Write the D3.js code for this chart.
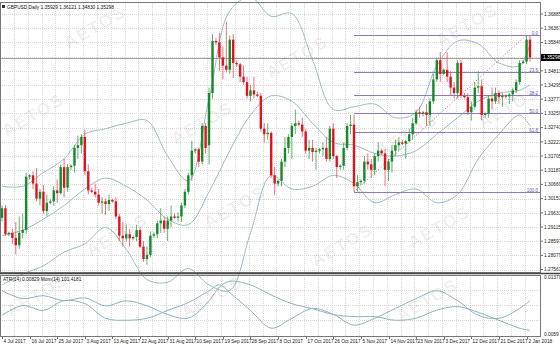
<!DOCTYPE html>
<html>
<head>
<meta charset="utf-8">
<script src="https://cdn.jsdelivr.net/npm/d3@7"></script>
<style>
  body { margin: 0; background: #fff; }
  svg { display: block; font-family: "Liberation Sans", Arial, sans-serif; }
</style>
</head>
<body>
<div id="chart"></div>
<script>
// ---- data (GBPUSD daily) ----
var open = [
  1.2945,1.2980,1.2885,1.2890,1.2872,1.2845,1.2890,1.2900,1.3095,1.3100,
  1.3070,1.3015,1.3040,1.2970,1.3000,1.3005,1.3045,1.3035,1.3130,1.3055,
  1.3130,1.3135,1.3200,1.3210,1.3240,1.3115,1.3045,1.3040,1.3030,1.3000,
  1.3005,1.2995,1.3010,1.3005,1.2950,1.2880,1.2870,1.2885,1.2870,1.2875,
  1.2900,1.2840,1.2795,1.2810,1.2880,1.2885,1.2925,1.2935,1.2905,1.2935,
  1.2950,1.2945,1.2950,1.2990,1.3040,1.3100,1.3190,1.3195,1.3150,1.3280,
  1.3210,1.3400,1.3590,1.3585,1.3530,1.3500,1.3485,1.3595,1.3510,1.3505,
  1.3460,1.3440,1.3390,1.3410,1.3395,1.3390,1.3270,1.3250,1.3255,1.3100,
  1.3070,1.3080,1.3150,1.3200,1.3240,1.3280,1.3290,1.3285,1.3260,1.3190,
  1.3200,1.3185,1.3190,1.3195,1.3200,1.3160,1.3270,1.3170,1.3130,1.3135,
  1.3200,1.3280,1.3285,1.3060,1.3075,1.3080,1.3150,1.3140,1.3120,1.3170,
  1.3190,1.3180,1.3120,1.3150,1.3190,1.3210,1.3220,1.3215,1.3225,1.3250,
  1.3290,1.3330,1.3325,1.3330,1.3320,1.3370,1.3450,1.3520,1.3470,1.3485,
  1.3460,1.3420,1.3400,1.3510,1.3390,1.3385,1.3330,1.3350,1.3420,1.3425,
  1.3320,1.3325,1.3380,1.3370,1.3400,1.3385,1.3390,1.3388,1.3395,1.3410,
  1.3440,1.3510,1.3515,1.3595];
var high = [
  1.2990,1.2992,1.2895,1.2905,1.2930,1.2950,1.2960,1.3110,1.3105,1.3115,
  1.3126,1.3050,1.3065,1.3030,1.3012,1.3060,1.3085,1.3140,1.3160,1.3140,
  1.3140,1.3210,1.3245,1.3250,1.3267,1.3140,1.3055,1.3070,1.3050,1.3020,
  1.3015,1.3030,1.3015,1.3020,1.2960,1.2930,1.2920,1.2905,1.2880,1.2920,
  1.2910,1.2860,1.2840,1.2895,1.2892,1.2935,1.2980,1.2950,1.2950,1.2990,
  1.2960,1.2965,1.3000,1.3050,1.3110,1.3225,1.3200,1.3200,1.3290,1.3290,
  1.3420,1.3615,1.3600,1.3620,1.3570,1.3660,1.3610,1.3615,1.3520,1.3510,
  1.3500,1.3460,1.3430,1.3460,1.3405,1.3400,1.3290,1.3290,1.3260,1.3130,
  1.3085,1.3160,1.3240,1.3250,1.3290,1.3340,1.3300,1.3310,1.3270,1.3230,
  1.3230,1.3200,1.3200,1.3220,1.3240,1.3280,1.3290,1.3175,1.3140,1.3220,
  1.3290,1.3320,1.3320,1.3100,1.3085,1.3170,1.3180,1.3160,1.3180,1.3220,
  1.3195,1.3195,1.3160,1.3210,1.3230,1.3240,1.3230,1.3230,1.3270,1.3310,
  1.3340,1.3350,1.3335,1.3360,1.3380,1.3470,1.3530,1.3550,1.3490,1.3550,
  1.3480,1.3440,1.3520,1.3520,1.3400,1.3400,1.3370,1.3440,1.3480,1.3450,
  1.3330,1.3390,1.3420,1.3420,1.3410,1.3400,1.3395,1.3400,1.3420,1.3450,
  1.3520,1.3520,1.3612,1.3612];
var low = [
  1.2932,1.2880,1.2878,1.2850,1.2812,1.2832,1.2870,1.2885,1.3085,1.3050,
  1.3005,1.2990,1.2960,1.2950,1.2995,1.2990,1.3000,1.3030,1.3020,1.3040,
  1.3120,1.3110,1.3160,1.3180,1.3100,1.3030,1.3035,1.3020,1.2990,1.2960,
  1.2955,1.2970,1.3000,1.2940,1.2860,1.2840,1.2860,1.2840,1.2862,1.2860,
  1.2835,1.2785,1.2774,1.2800,1.2872,1.2870,1.2890,1.2890,1.2860,1.2910,
  1.2940,1.2930,1.2930,1.2980,1.3030,1.3080,1.3180,1.3130,1.3140,1.3180,
  1.3140,1.3380,1.3575,1.3480,1.3450,1.3475,1.3470,1.3455,1.3495,1.3440,
  1.3430,1.3380,1.3370,1.3380,1.3385,1.3260,1.3220,1.3230,1.3090,1.3027,
  1.3060,1.3060,1.3130,1.3180,1.3160,1.3250,1.3280,1.3240,1.3180,1.3160,
  1.3150,1.3120,1.3180,1.3170,1.3150,1.3150,1.3160,1.3090,1.3120,1.3120,
  1.3190,1.3250,1.3040,1.3040,1.3065,1.3070,1.3120,1.3090,1.3100,1.3150,
  1.3175,1.3060,1.3080,1.3110,1.3170,1.3190,1.3210,1.3160,1.3220,1.3230,
  1.3285,1.3310,1.3315,1.3280,1.3280,1.3360,1.3440,1.3440,1.3465,1.3440,
  1.3390,1.3380,1.3380,1.3380,1.3380,1.3320,1.3300,1.3340,1.3400,1.3300,
  1.3310,1.3310,1.3340,1.3360,1.3360,1.3350,1.3380,1.3360,1.3370,1.3400,
  1.3430,1.3505,1.3505,1.3515];
var close = [
  1.2980,1.2885,1.2890,1.2872,1.2845,1.2890,1.2900,1.3095,1.3100,1.3070,
  1.3015,1.3040,1.2970,1.3000,1.3005,1.3045,1.3035,1.3130,1.3055,1.3130,
  1.3135,1.3200,1.3210,1.3240,1.3115,1.3045,1.3040,1.3030,1.3000,1.3005,
  1.2995,1.3010,1.3005,1.2950,1.2880,1.2870,1.2885,1.2870,1.2875,1.2900,
  1.2840,1.2795,1.2810,1.2880,1.2885,1.2925,1.2935,1.2905,1.2935,1.2950,
  1.2945,1.2950,1.2990,1.3040,1.3100,1.3190,1.3195,1.3150,1.3280,1.3200,
  1.3400,1.3590,1.3585,1.3530,1.3500,1.3485,1.3595,1.3510,1.3505,1.3460,
  1.3440,1.3390,1.3410,1.3395,1.3390,1.3270,1.3250,1.3255,1.3100,1.3070,
  1.3080,1.3150,1.3200,1.3240,1.3280,1.3290,1.3285,1.3260,1.3190,1.3200,
  1.3185,1.3190,1.3195,1.3200,1.3160,1.3270,1.3170,1.3130,1.3135,1.3200,
  1.3280,1.3285,1.3060,1.3075,1.3080,1.3150,1.3140,1.3120,1.3170,1.3190,
  1.3180,1.3120,1.3150,1.3190,1.3210,1.3220,1.3215,1.3225,1.3250,1.3290,
  1.3330,1.3325,1.3330,1.3320,1.3370,1.3450,1.3520,1.3470,1.3485,1.3460,
  1.3420,1.3400,1.3510,1.3390,1.3385,1.3330,1.3350,1.3420,1.3425,1.3320,
  1.3325,1.3380,1.3370,1.3400,1.3385,1.3390,1.3388,1.3395,1.3410,1.3440,
  1.3510,1.3515,1.3595,1.35298];

// date labels, every 8th bar
var dateLabels = ["4 Jul 2017","16 Jul 2017","25 Jul 2017","3 Aug 2017","13 Aug 2017",
  "22 Aug 2017","31 Aug 2017","10 Sep 2017","19 Sep 2017","28 Sep 2017","8 Oct 2017",
  "17 Oct 2017","26 Oct 2017","5 Nov 2017","14 Nov 2017","23 Nov 2017","3 Dec 2017",
  "12 Dec 2017","21 Dec 2017","2 Jan 2018"];
var dateIdx = [0,8,16,24,32,40,48,56,64,72,80,88,96,104,112,120,128,136,144,152];

// price axis labels
var priceLabels = ["1.36885","1.36367","1.35849","1.35331","1.34813","1.34295","1.33777",
  "1.33259","1.32741","1.32223","1.31705","1.31187","1.30669","1.30151","1.29633",
  "1.29115","1.28597","1.28079","1.27561"];

// bollinger bands
var bandIdx = [0,6,12,18,24,30,36,42,48,54,60,66,72,78,84,90,96,102,108,114,120,126,132,138,144,150,153];
var bandUp  = [1.3060,1.3060,1.3110,1.3160,1.3250,1.3270,1.3290,1.3300,1.3170,1.3080,1.3380,1.3700,1.3750,1.3680,
               1.3690,1.3520,1.3340,1.3350,1.3360,1.3310,1.3330,1.3500,1.3590,1.3580,1.3510,1.3500,1.3580];
var bandMid = [1.2880,1.2900,1.2940,1.2990,1.3050,1.3090,1.3060,1.3010,1.2940,1.2920,1.3040,1.3190,1.3320,1.3390,
               1.3370,1.3290,1.3220,1.3210,1.3180,1.3170,1.3190,1.3250,1.3310,1.3370,1.3400,1.3410,1.3430];
var bandLow = [1.2700,1.2740,1.2770,1.2820,1.2850,1.2910,1.2830,1.2720,1.2710,1.2760,1.2700,1.2680,1.2890,1.3100,
               1.3050,1.3060,1.3100,1.3070,1.3000,1.3030,1.3050,1.3000,1.3030,1.3160,1.3250,1.3320,1.3280];

// fibonacci retracement
var fibLevels = [0, 23.6, 38.2, 50, 61.8, 100];
var fibLowIdx = 102, fibHighIdx = 152, fibLow = 1.3040, fibHigh = 1.3612;

// lower window: ATR(14) and Momentum(14), sampled
var subIdx = [0,6,12,18,24,30,36,42,48,54,60,63,66,72,78,84,90,96,102,108,114,120,126,132,138,144,150,153];
var atr = [0.0119,0.0108,0.0112,0.0105,0.0109,0.0098,0.0105,0.0098,0.0086,0.0081,0.0105,0.0124,0.0132,0.0127,
           0.0113,0.0101,0.0094,0.0086,0.0083,0.0083,0.0078,0.0081,0.0092,0.0097,0.0089,0.0078,0.0067,0.0064];
var mom = [99.29,100.50,99.90,101.10,100.74,98.93,98.69,98.93,99.90,100.86,102.31,103.04,102.07,99.90,
           97.72,98.93,100.14,99.41,98.09,98.93,100.14,101.35,102.31,101.10,99.29,98.93,100.14,101.10];

var watermarks = [[98,32],[300,62],[470,30],[36,120],[205,128],[410,140],[120,240],[238,212],
                  [345,250],[442,232],[512,112],[40,300],[215,302],[430,305]];

// ---- layout ----
var width = 560, height = 345;
var plotR = 540, mainTop = 3, mainBot = 272, subTop = 275, subBot = 336;

var svg = d3.select("#chart").append("svg")
  .attr("width", width).attr("height", height);

var x = d3.scaleLinear().domain([0, 153]).range([2, 530]);
var y = d3.scaleLinear().domain([1.27561, 1.36885]).range([269.6, 14]);
var yAtr = d3.scaleLinear().domain([0.0059, 0.01379]).range([334, 277]);
var yMom = d3.scaleLinear().domain([97, 104]).range([334, 277]);

// grid
var grid = svg.append("g").attr("stroke", "#d9d9d9").attr("stroke-dasharray", "1,1");
d3.range(1, 39).forEach(function(k) {
  var gx = Math.round(x(k * 4 - 0.5)) + 0.5;
  if (gx < plotR) grid.append("line").attr("x1", gx).attr("x2", gx).attr("y1", mainTop).attr("y2", subBot);
});
priceLabels.forEach(function(p) {
  var gy = Math.round(y(+p)) + 0.5;
  grid.append("line").attr("x1", 0).attr("x2", plotR).attr("y1", gy).attr("y2", gy);
});
[290, 305, 320].forEach(function(gy) {
  grid.append("line").attr("x1", 0).attr("x2", plotR).attr("y1", gy + 0.5).attr("y2", gy + 0.5);
});

// watermark
svg.append("g").selectAll("text").data(watermarks).enter().append("text")
  .attr("transform", function(d) { return "translate(" + d[0] + "," + d[1] + ")rotate(-30)"; })
  .attr("text-anchor", "middle")
  .style("font-size", "17px").style("font-weight", "bold").style("letter-spacing", "2px")
  .attr("fill", "#000").attr("fill-opacity", 0.07)
  .text("AETOS");

// bands
var bandLine = function(vals) {
  return d3.line()
    .x(function(d, i) { return x(bandIdx[i]); })
    .y(function(d) { return y(d); })
    .curve(d3.curveCatmullRom)(vals);
};
var main = svg.append("g");
[bandUp, bandMid, bandLow].forEach(function(b) {
  main.append("path").attr("d", bandLine(b))
    .attr("fill", "none").attr("stroke", "#9dbcc2").attr("stroke-width", 1);
});

// current price line
var last = close[close.length - 1];
main.append("line").attr("x1", 0).attr("x2", plotR)
  .attr("y1", Math.round(y(last)) + 0.5).attr("y2", Math.round(y(last)) + 0.5)
  .attr("stroke", "#a0a0a0");

// fibonacci
var fibY = function(lv) { return fibHigh - (fibHigh - fibLow) * lv / 100; };
main.append("line")
  .attr("x1", x(fibLowIdx)).attr("y1", y(fibLow))
  .attr("x2", x(fibHighIdx)).attr("y2", y(fibHigh))
  .attr("stroke", "#c07070").attr("stroke-dasharray", "1,2");
fibLevels.forEach(function(lv) {
  var fy = Math.round(y(fibY(lv))) + 0.5;
  main.append("line").attr("x1", x(fibLowIdx)).attr("x2", plotR).attr("y1", fy).attr("y2", fy)
    .attr("stroke", "#8a7cb5").attr("stroke-width", 1);
  main.append("text").attr("x", 538).attr("y", fy - 1).attr("text-anchor", "end")
    .style("font-size", "4.5px").attr("fill", "#6a5ca5")
    .text(lv === 100 ? "100.0" : d3.format(".1f")(lv));
});

// candles
var bars = main.selectAll("g.bar").data(close).enter().append("g");
bars.append("line")
  .attr("x1", function(d, i) { return x(i); }).attr("x2", function(d, i) { return x(i); })
  .attr("y1", function(d, i) { return y(high[i]); }).attr("y2", function(d, i) { return y(low[i]); })
  .attr("stroke", function(d, i) { return close[i] >= open[i] ? "#3c9c4a" : "#e44c58"; })
  .attr("stroke-width", 0.8);
bars.append("rect")
  .attr("x", function(d, i) { return x(i) - 1.2; })
  .attr("width", 2.4)
  .attr("y", function(d, i) { return y(Math.max(open[i], close[i])); })
  .attr("height", function(d, i) { return Math.max(0.8, Math.abs(y(open[i]) - y(close[i]))); })
  .attr("fill", function(d, i) { return close[i] >= open[i] ? "#168a2a" : "#e0141e"; });

// lower window lines
var subLine = function(vals, sc) {
  return d3.line()
    .x(function(d, i) { return x(subIdx[i]); })
    .y(function(d) { return sc(d); })
    .curve(d3.curveCatmullRom)(vals);
};
svg.append("path").attr("d", subLine(atr, yAtr)).attr("fill", "none").attr("stroke", "#8fb2c0");
svg.append("path").attr("d", subLine(mom, yMom)).attr("fill", "none").attr("stroke", "#8fb2c0");

// frames
var frame = svg.append("g").attr("fill", "none").attr("stroke", "#777");
frame.append("rect").attr("x", 0.5).attr("y", 2.5).attr("width", plotR).attr("height", mainBot - 2);
frame.append("rect").attr("x", 0.5).attr("y", subTop + 0.5).attr("width", plotR).attr("height", subBot - subTop);
svg.append("line").attr("x1", 0).attr("x2", 560).attr("y1", 273.5).attr("y2", 273.5)
  .attr("stroke", "#444").attr("stroke-width", 1.5);

// price axis
var axisG = svg.append("g").style("font-size", "4.8px").attr("fill", "#222");
priceLabels.forEach(function(p, k) {
  if (k === 3) return;
  var py = y(+p);
  axisG.append("line").attr("x1", plotR).attr("x2", plotR + 3).attr("y1", py).attr("y2", py).attr("stroke", "#777");
  axisG.append("text").attr("x", plotR + 4).attr("y", py + 1.7).text(p);
});
axisG.append("rect").attr("x", plotR + 1).attr("y", y(last) - 3.5).attr("width", 19).attr("height", 7).attr("fill", "#000");
axisG.append("text").attr("x", plotR + 3).attr("y", y(last) + 1.7).attr("fill", "#fff").text(d3.format(".5f")(last));
axisG.append("text").attr("x", plotR + 4).attr("y", 279).text("0.01379");
axisG.append("text").attr("x", plotR + 4).attr("y", 336).text("0.0059");

// time axis
dateIdx.forEach(function(di, k) {
  var tx = Math.round(x(di)) + 0.5;
  axisG.append("line").attr("x1", tx).attr("x2", tx).attr("y1", subBot).attr("y2", subBot + 3).attr("stroke", "#777");
  axisG.append("text").attr("x", tx + 1).attr("y", 343).text(dateLabels[k]);
});

// titles
svg.append("rect").attr("x", 2).attr("y", 5).attr("width", 3).attr("height", 3).attr("fill", "#333");
svg.append("text").attr("x", 7).attr("y", 8.5).style("font-size", "4.8px").attr("fill", "#111")
  .text("GBPUSD,Daily  1.35929 1.36121 1.34830 1.35298");
svg.append("text").attr("x", 3).attr("y", 281).style("font-size", "4.8px").attr("fill", "#111")
  .text("ATR(14) 0.00829  Mom(14) 101.4181");
</script>
</body>
</html>
